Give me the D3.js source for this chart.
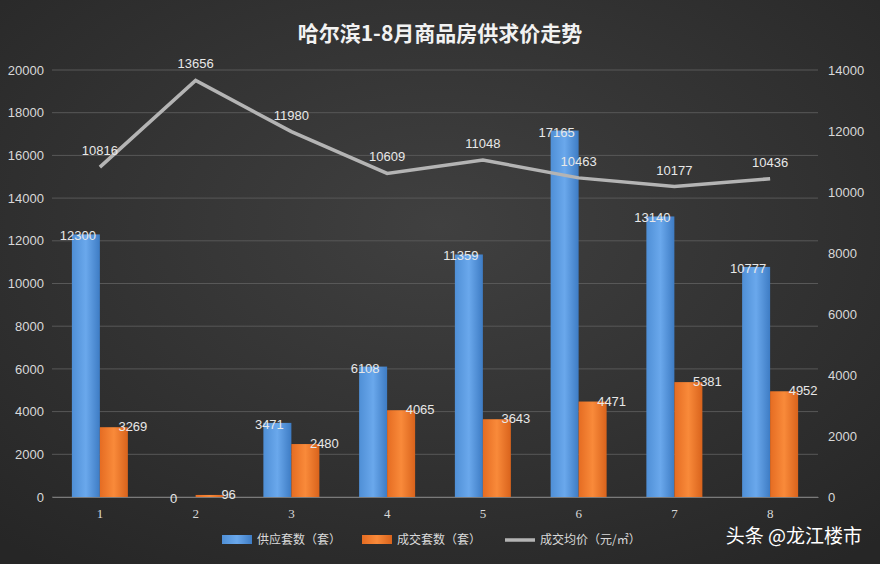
<!DOCTYPE html>
<html><head><meta charset="utf-8">
<script src="https://cdn.jsdelivr.net/npm/d3@7"></script>
<style>body{margin:0;background:#2e2e2e}</style>
</head><body>
<script>
const months = ["1","2","3","4","5","6","7","8"];
const supply = [12300, 0, 3471, 6108, 11359, 17165, 13140, 10777];
const sold = [3269, 96, 2480, 4065, 3643, 4471, 5381, 4952];
const price = [10816, 13656, 11980, 10609, 11048, 10463, 10177, 10436];
const leftTicks = d3.range(0, 20001, 2000);
const rightTicks = d3.range(0, 14001, 2000);

const W = 880, H = 564;
const svg = d3.select("body").append("svg").attr("width", W).attr("height", H)
  .style("font-family", "'Noto Sans CJK SC', sans-serif");
const defs = svg.append("defs");
const g = defs.append("radialGradient").attr("id", "bg").attr("cx", "50%").attr("cy", "40%").attr("r", "75%");
g.append("stop").attr("offset", "0%").attr("stop-color", "#404040");
g.append("stop").attr("offset", "100%").attr("stop-color", "#262626");
svg.append("rect").attr("width", W).attr("height", H).attr("fill", "url(#bg)");

const x = d3.scaleBand().domain(months).range([52, 818]);
const yL = d3.scaleLinear().domain([0, 20000]).range([497, 70]);
const yR = d3.scaleLinear().domain([0, 14000]).range([497, 70]);
const bw = 28;
const fmt = d3.format("d");

svg.append("g").selectAll("line").data(leftTicks).join("line")
  .attr("x1", 52).attr("x2", 818).attr("y1", d => yL(d)).attr("y2", d => yL(d))
  .attr("stroke", "#585858").attr("stroke-width", 1);

svg.append("g").attr("transform", "translate(52,0)")
  .call(d3.axisLeft(yL).tickValues(leftTicks).tickFormat(fmt).tickSize(0).tickPadding(8))
  .call(a => a.select(".domain").remove())
  .selectAll("text").attr("fill", "#d9d9d9").style("font-size", "13px").style("font-family", "'Liberation Sans', sans-serif");
svg.append("g").attr("transform", "translate(818,0)")
  .call(d3.axisRight(yR).tickValues(rightTicks).tickFormat(fmt).tickSize(0).tickPadding(10))
  .call(a => a.select(".domain").remove())
  .selectAll("text").attr("fill", "#d9d9d9").style("font-size", "13px").style("font-family", "'Liberation Sans', sans-serif");
svg.append("g").attr("transform", "translate(0,497)")
  .call(d3.axisBottom(x).tickSize(0).tickPadding(12))
  .call(a => a.select(".domain").attr("stroke", "#7a7a7a"))
  .selectAll("text").attr("fill", "#d9d9d9").style("font-size", "13px").style("font-family", "'Liberation Serif', serif");

const cx = d => x(d) + x.bandwidth() / 2;
const blue = defs.append("linearGradient").attr("id", "bl").attr("x1", 0).attr("x2", 1);
blue.append("stop").attr("offset", "0%").attr("stop-color", "#4f8fd6");
blue.append("stop").attr("offset", "50%").attr("stop-color", "#6aa8ec");
blue.append("stop").attr("offset", "100%").attr("stop-color", "#3e7cc4");
const org = defs.append("linearGradient").attr("id", "or").attr("x1", 0).attr("x2", 1);
org.append("stop").attr("offset", "0%").attr("stop-color", "#e56c22");
org.append("stop").attr("offset", "50%").attr("stop-color", "#f98a3a");
org.append("stop").attr("offset", "100%").attr("stop-color", "#d9631c");

svg.append("g").selectAll("rect").data(months).join("rect")
  .attr("x", (d) => cx(d) - bw).attr("width", bw)
  .attr("y", (d, i) => yL(supply[i])).attr("height", (d, i) => 497 - yL(supply[i]))
  .attr("fill", "url(#bl)");
svg.append("g").selectAll("rect").data(months).join("rect")
  .attr("x", (d) => cx(d)).attr("width", bw)
  .attr("y", (d, i) => yL(sold[i])).attr("height", (d, i) => 497 - yL(sold[i]))
  .attr("fill", "url(#or)");

const line = d3.line().x((d, i) => cx(months[i])).y(d => yR(d));
svg.append("path").datum(price).attr("d", line).attr("fill", "none")
  .attr("stroke", "#b4b4b4").attr("stroke-width", 3.5);

const lbl = { fill: "#e8e8e8", size: "13px" };
svg.append("g").selectAll("text").data(months).join("text")
  .attr("x", d => cx(d) - 22).attr("y", (d, i) => yL(supply[i]) + 6)
  .attr("text-anchor", "middle").attr("fill", lbl.fill).style("font-size", lbl.size)
  .style("font-family", "'Liberation Sans', sans-serif").text((d, i) => supply[i]);
svg.append("g").selectAll("text").data(months).join("text")
  .attr("x", d => cx(d) + 33).attr("y", (d, i) => yL(sold[i]) + 4)
  .attr("text-anchor", "middle").attr("fill", lbl.fill).style("font-size", lbl.size)
  .style("font-family", "'Liberation Sans', sans-serif").text((d, i) => sold[i]);
svg.append("g").selectAll("text").data(months).join("text")
  .attr("x", d => cx(d)).attr("y", (d, i) => yR(price[i]) - 12)
  .attr("text-anchor", "middle").attr("fill", lbl.fill).style("font-size", lbl.size)
  .style("font-family", "'Liberation Sans', sans-serif").text((d, i) => price[i]);

svg.append("text").attr("x", 440).attr("y", 41).attr("text-anchor", "middle")
  .attr("fill", "#f2f2f2").style("font-size", "21px").style("font-weight", "bold")
  .text("哈尔滨1-8月商品房供求价走势");

const leg = svg.append("g").style("font-size", "12px").attr("fill", "#d9d9d9");
leg.append("rect").attr("x", 222).attr("y", 535).attr("width", 30).attr("height", 9).attr("fill", "url(#bl)");
leg.append("text").attr("x", 257).attr("y", 544).text("供应套数（套）");
leg.append("rect").attr("x", 362).attr("y", 535).attr("width", 30).attr("height", 9).attr("fill", "url(#or)");
leg.append("text").attr("x", 397).attr("y", 544).text("成交套数（套）");
leg.append("line").attr("x1", 505).attr("x2", 535).attr("y1", 540).attr("y2", 540).attr("stroke", "#b4b4b4").attr("stroke-width", 3.5);
leg.append("text").attr("x", 540).attr("y", 544).text("成交均价（元/㎡）");

svg.append("text").attr("x", 862).attr("y", 543).attr("text-anchor", "end")
  .attr("fill", "#ffffff").style("font-size", "19px").text("头条 @龙江楼市");
</script>
</body></html>
